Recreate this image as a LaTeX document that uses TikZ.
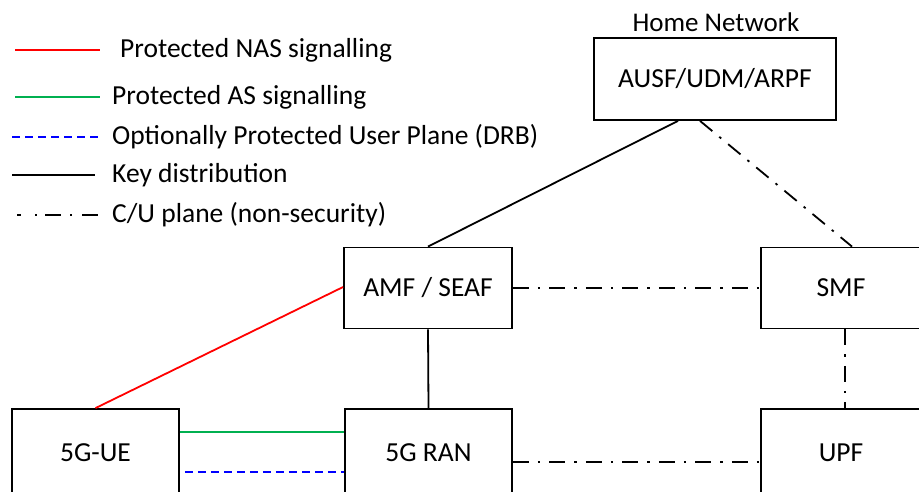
\documentclass[tikz,border=0pt]{standalone}
\usepackage{fontspec}
\setmainfont{Carlito}
\begin{document}
\begin{tikzpicture}[x=1pt,y=-1pt,
  nf/.style={draw=black,line width=1.8pt,rectangle,inner sep=0pt,font=\fontsize{27.5}{30}\selectfont},
  lbl/.style={anchor=west,inner sep=0pt,font=\fontsize{27.5}{30}\selectfont},
  nas/.style={draw={rgb,255:red,255;green,0;blue,0},line width=1.8pt},
  as/.style={draw={rgb,255:red,0;green,176;blue,80},line width=1.8pt},
  upl/.style={draw={rgb,255:red,0;green,0;blue,255},line width=2.2pt,dash pattern=on 8pt off 5pt},
  keyd/.style={draw=black,line width=1.8pt},
  cu/.style={draw=black,line width=1.8pt,dash pattern=on 16pt off 9pt on 2.5pt off 9pt}]
\useasboundingbox (0,0) rectangle (919,492);
\clip (0,0) rectangle (919,492);

% network functions
\node[nf,minimum width=242pt,minimum height=82pt] (ausf) at (715,79) {AUSF/UDM/ARPF};
\node[font=\fontsize{27}{30}\selectfont,inner sep=0pt] (home) at (716,22) {Home Network};
\node[nf,minimum width=168pt,minimum height=81pt] (amf) at (428,288) {AMF / SEAF};
\node[nf,minimum width=160pt,minimum height=81pt] (smf) at (841,288) {SMF};
\node[nf,minimum width=167pt,minimum height=88pt] (ue) at (95.5,453) {5G-UE};
\node[nf,minimum width=167pt,minimum height=88pt] (ran) at (428.5,453) {5G RAN};
\node[nf,minimum width=160pt,minimum height=88pt] (upf) at (841,453) {UPF};

% connections
\draw[keyd] (ausf.south) ++(-37,0) coordinate (ak) -- (amf.north);
\draw[cu] (ausf.south) ++(-15,0) coordinate (ac) -- ([xshift=11pt]smf.north);
\draw[cu] (amf.east) -- (smf.west);
\draw[keyd] (amf.south) -- (ran.north);
\draw[cu] ([xshift=4pt]smf.south) -- ([xshift=4pt]upf.north);
\draw[nas] ([yshift=1pt]amf.west) -- (ue.north);
\draw[as] ([yshift=21pt]ue.east) -- ([yshift=21pt]ran.west);
\draw[upl] ([xshift=5pt,yshift=-19pt]ue.east) -- ([yshift=-19pt]ran.west);
\draw[cu] ([yshift=-9pt]ran.east) -- ([yshift=-9pt]upf.west);

% legend
\coordinate (l1a) at (15,50);  \coordinate (l1b) at (100,50);
\coordinate (l2a) at (15,97);  \coordinate (l2b) at (100,97);
\coordinate (l3a) at (12,137); \coordinate (l3b) at (100,137);
\coordinate (l4a) at (12,175); \coordinate (l4b) at (95,175);
\coordinate (l5a) at (17,215); \coordinate (l5b) at (100,215);
\draw[nas] (l1a) -- (l1b);
\draw[as] (l2a) -- (l2b);
\draw[upl] (l3a) -- (l3b);
\draw[keyd] (l4a) -- (l4b);
\draw[draw=black,line width=1.8pt,dash pattern=on 4pt off 14pt on 2pt off 8pt on 16pt off 9pt on 2pt off 10pt on 16pt] (l5a) -- (l5b);
\node[lbl] (t1) at (120,50) {Protected NAS signalling};
\node[lbl] (t2) at (112,97) {Protected AS signalling};
\node[lbl] (t3) at (112,137) {Optionally Protected User Plane (DRB)};
\node[lbl] (t4) at (112,175) {Key distribution};
\node[lbl] (t5) at (112,215) {C/U plane (non-security)};
\end{tikzpicture}
\end{document}
